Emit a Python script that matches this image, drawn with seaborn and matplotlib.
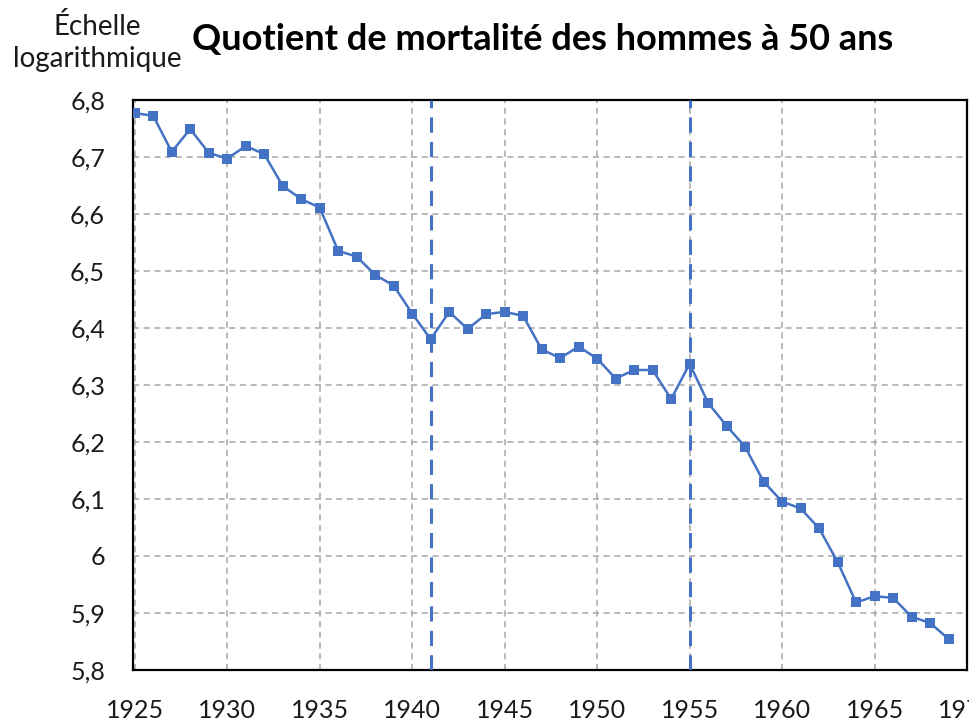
import matplotlib
matplotlib.use("Agg")
import matplotlib.pyplot as plt
import matplotlib.ticker as mticker
import pandas as pd
import seaborn as sns

# Values (log scale values)
years = list(range(1925, 1970))
quotient = [
    6.777, 6.772, 6.709, 6.749, 6.707, 6.697, 6.719, 6.705, 6.649, 6.626,
    6.611, 6.535, 6.525, 6.493, 6.474, 6.425, 6.380, 6.428, 6.398, 6.424,
    6.428, 6.421, 6.362, 6.347, 6.367, 6.346, 6.311, 6.326, 6.326, 6.275,
    6.337, 6.268, 6.228, 6.191, 6.130, 6.095, 6.083, 6.048, 5.989, 5.918,
    5.929, 5.926, 5.893, 5.882, 5.854,
]
event_years = [1941, 1955]
x_ticks = list(range(1925, 1971, 5))
y_ticks = [5.8, 5.9, 6.0, 6.1, 6.2, 6.3, 6.4, 6.5, 6.6, 6.7, 6.8]

BLUE = "#4472C4"

sns.set_theme(style="whitegrid")
plt.rcParams["font.family"] = ["Lato", "DejaVu Sans"]

df = pd.DataFrame({"annee": years, "quotient": quotient})

fig = plt.figure(figsize=(9.7, 7.24), dpi=100)
ax = fig.add_axes([0.137, 0.075, 0.860, 0.787])

ax.grid(True, color="#A6A6A6", linestyle=(0, (4, 3)), linewidth=1.1)
for ev in event_years:
    ax.axvline(ev, color=BLUE, linestyle=(0, (5, 3)), linewidth=2.2, zorder=3)

sns.lineplot(data=df, x="annee", y="quotient", ax=ax, color=BLUE,
             linewidth=1.8, marker="s", markersize=7.5, markeredgewidth=0,
             zorder=4)

ax.set_xlim(1924.9, 1970)
ax.set_ylim(5.8, 6.8)
ax.set_xticks(x_ticks)
ax.set_yticks(y_ticks)


def fr_fmt(v, pos):
    s = f"{v:.1f}"
    if s.endswith(".0"):
        s = s[:-2]
    return s.replace(".", ",")


ax.yaxis.set_major_formatter(mticker.FuncFormatter(fr_fmt))
ax.tick_params(axis="y", labelsize=18, pad=20, length=0, colors="#1a1a1a")
ax.tick_params(axis="x", labelsize=18, pad=21, length=0, colors="#1a1a1a")
ax.set_xlabel("")
ax.set_ylabel("")

for side in ["left", "bottom", "top", "right"]:
    ax.spines[side].set_visible(True)
    ax.spines[side].set_color("black")
    ax.spines[side].set_linewidth(1.6)

fig.text(0.100, 0.952, "Échelle", ha="center", va="baseline", fontsize=20,
         color="#1a1a1a")
fig.text(0.100, 0.907, "logarithmique", ha="center", va="baseline", fontsize=20,
         color="#1a1a1a")
fig.text(0.198, 0.931, "Quotient de mortalité des hommes à 50 ans", ha="left",
         va="baseline", fontsize=26, fontweight="bold", color="black")

fig.savefig("out.png", dpi=100)
plt.close(fig)
